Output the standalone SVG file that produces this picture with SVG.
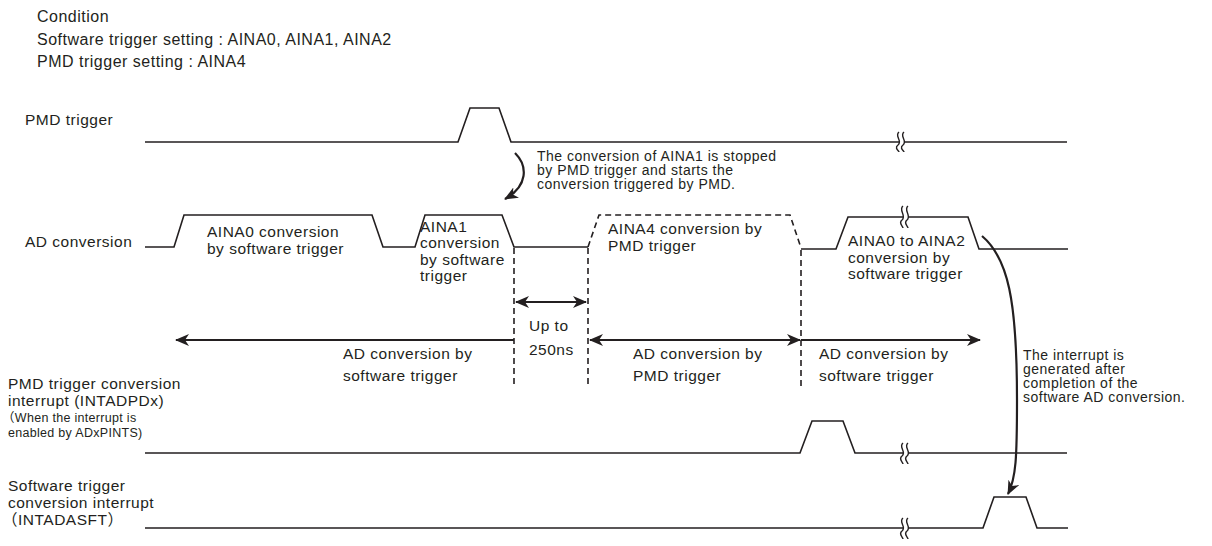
<svg xmlns="http://www.w3.org/2000/svg" width="1212" height="546" viewBox="0 0 1212 546">
<style>
.bg{fill:#fff}
.sig{fill:none;stroke:#231f20;stroke-width:1.6;stroke-linejoin:miter}
.dash{fill:none;stroke:#231f20;stroke-width:1.6;stroke-dasharray:6 4}
.arr{fill:none;stroke:#231f20;stroke-width:2.2}
.brk{fill:none;stroke:#231f20;stroke-width:1.4}
.gap{stroke:#fff;stroke-width:4}
text{font-family:"Liberation Sans",Arial,"Noto Sans CJK JP",sans-serif;fill:#231f20}
.h{font-size:16px;letter-spacing:0.5px}
.t{font-size:15.5px;letter-spacing:0.5px}
.n{font-size:14px;letter-spacing:0.5px}
.s{font-size:12.5px;letter-spacing:0.3px}
</style>
<defs>
<marker id="ah" viewBox="0 0 14 12" refX="13" refY="6" markerWidth="14" markerHeight="12" markerUnits="userSpaceOnUse" orient="auto-start-reverse">
<path d="M0,0 L14,6 L0,12 L4,6 z" fill="#231f20"/>
</marker>
</defs>
<rect class="bg" x="0" y="0" width="1212" height="546"/>

<g id="header">
<text class="h" x="37" y="22">Condition</text>
<text class="h" x="37" y="45">Software trigger setting : AINA0, AINA1, AINA2</text>
<text class="h" x="37" y="67">PMD trigger setting : AINA4</text>
</g>

<g id="pmd-trigger">
<text class="t" x="25" y="125">PMD trigger</text>
<path class="sig" d="M145,142 H458 L470,108 H499 L511,142 H1067"/>
<g class="break">
<line class="gap" x1="899" y1="142" x2="904" y2="142"/>
<path class="brk" d="M899,132 C894,136 903,141 898,145 C894,148 899,151 899,152"/>
<path class="brk" d="M904,132 C899,136 908,141 903,145 C899,148 904,151 904,152"/>
</g>
</g>

<g id="ad-conversion">
<text class="t" x="25" y="247">AD conversion</text>
<path class="sig" d="M145,247 H174 L184,215 H372 L383,247 H415 L425,215 H502 L514,247 H588"/>
<path class="dash" d="M588,247 L599,215 H790 L801,248"/>
<path class="sig" d="M801,249 H836 L848,217 H968 L979,249 H1068"/>
<g class="break">
<line class="gap" x1="903" y1="217" x2="908" y2="217"/>
<path class="brk" d="M903,206 C898,210 907,216 902,220 C898,223 903,226 903,228"/>
<path class="brk" d="M908,206 C903,210 912,216 907,220 C903,223 908,226 908,228"/>
</g>
<text class="t" x="207" y="237">AINA0 conversion</text>
<text class="t" x="207" y="254">by software trigger</text>
<text class="t" x="420" y="232">AINA1</text>
<text class="t" x="420" y="248">conversion</text>
<text class="t" x="420" y="265">by software</text>
<text class="t" x="420" y="281">trigger</text>
<text class="t" x="608" y="234">AINA4 conversion by</text>
<text class="t" x="608" y="251">PMD trigger</text>
<text class="t" x="848" y="246">AINA0 to AINA2</text>
<text class="t" x="848" y="263">conversion by</text>
<text class="t" x="848" y="279">software trigger</text>
</g>

<g id="note-pmd">
<text class="n" x="537" y="161">The conversion of AINA1 is stopped</text>
<text class="n" x="537" y="175">by PMD trigger and starts the</text>
<text class="n" x="537" y="189">conversion triggered by PMD.</text>
</g>

<g id="periods">
<text class="t" x="343" y="359">AD conversion by</text>
<text class="t" x="343" y="381">software trigger</text>
<text class="t" x="529" y="331">Up to</text>
<text class="t" x="529" y="355">250ns</text>
<text class="t" x="633" y="359">AD conversion by</text>
<text class="t" x="633" y="381">PMD trigger</text>
<text class="t" x="819" y="359">AD conversion by</text>
<text class="t" x="819" y="381">software trigger</text>
</g>

<g id="note-int">
<text class="n" x="1023" y="360">The interrupt is</text>
<text class="n" x="1023" y="374">generated after</text>
<text class="n" x="1023" y="388">completion of the</text>
<text class="n" x="1023" y="402">software AD conversion.</text>
</g>

<g id="pmd-interrupt">
<text class="t" x="8" y="389">PMD trigger conversion</text>
<text class="t" x="8" y="406">interrupt (INTADPDx)</text>
<text class="s" x="2" y="422">（When the interrupt is</text>
<text class="s" x="8" y="437">enabled by ADxPINTS)</text>
<path class="sig" d="M145,453 H800 L812,421 H843 L855,453 H1067"/>
<g class="break">
<line class="gap" x1="903" y1="453" x2="908" y2="453"/>
<path class="brk" d="M903,443 C898,447 907,452 902,456 C898,459 903,462 903,464"/>
<path class="brk" d="M908,443 C903,447 912,452 907,456 C903,459 908,462 908,464"/>
</g>
</g>

<g id="sw-interrupt">
<text class="t" x="8" y="491">Software trigger</text>
<text class="t" x="8" y="508">conversion interrupt</text>
<text class="t" x="2" y="525">（INTADASFT）</text>
<path class="sig" d="M145,528 H983 L994,497 H1026 L1037,528 H1068"/>
<g class="break">
<line class="gap" x1="903" y1="528" x2="908" y2="528"/>
<path class="brk" d="M903,518 C898,522 907,527 902,531 C898,534 903,537 903,539"/>
<path class="brk" d="M908,518 C903,522 912,527 907,531 C903,534 908,537 908,539"/>
</g>
</g>

<g id="connectors">
<line class="dash" x1="514" y1="248" x2="514" y2="386"/>
<line class="dash" x1="588" y1="248" x2="588" y2="386"/>
<line class="dash" x1="801" y1="250" x2="801" y2="386"/>
<line class="arr" x1="514" y1="340" x2="176" y2="340" marker-end="url(#ah)"/>
<line class="arr" x1="516" y1="302" x2="586" y2="302" marker-start="url(#ah)" marker-end="url(#ah)"/>
<line class="arr" x1="590" y1="340" x2="800" y2="340" marker-start="url(#ah)" marker-end="url(#ah)"/>
<line class="arr" x1="801" y1="340" x2="980" y2="340" marker-end="url(#ah)"/>
<path class="arr" d="M515,153 C528,166 528,186 505,199" marker-end="url(#ah)"/>
<path class="arr" d="M982,236 C1008,258 1017,300 1017,400 C1017,458 1016,478 1008,494" marker-end="url(#ah)"/>
</g>
</svg>
